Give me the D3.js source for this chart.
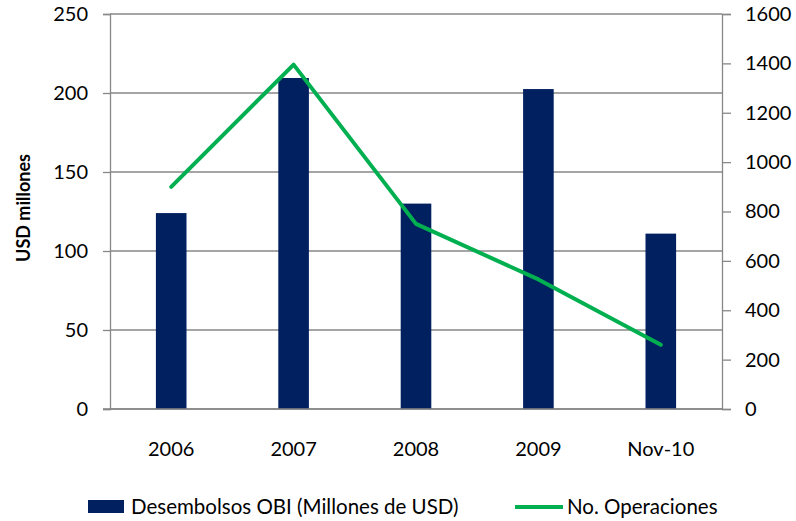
<!DOCTYPE html>
<html lang="en">
<head>
<meta charset="UTF-8">
<title>Desembolsos OBI</title>
<style>
    html, body { margin: 0; padding: 0; background: #fff; }
    svg { display: block; font-family: Lato, 'Open Sans', sans-serif; }
</style>
</head>
<body>
<div id="chart"></div>
<script src="https://d3js.org/d3.v7.min.js"></script>
<script>
    const categories = ["2006", "2007", "2008", "2009", "Nov-10"];
    const desembolsos = [124, 209.5, 130, 202.5, 111];
    const operaciones = [900, 1395, 750, 525, 260];
    const leftTicks = [0, 50, 100, 150, 200, 250];
    const rightTicks = [0, 200, 400, 600, 800, 1000, 1200, 1400, 1600];

    const W = 796, H = 521;
    const margin = {top: 14, left: 110, right: 74, bottom: 112};
    const width = W - margin.left - margin.right;
    const height = H - margin.top - margin.bottom;

    const svg = d3.select("#chart").append("svg")
        .attr("width", W).attr("height", H);
    const g = svg.append("g").attr("transform", `translate(${margin.left},${margin.top})`);

    const x = d3.scaleBand().domain(categories).range([0, width])
        .paddingInner(0.75).paddingOuter(0.375);
    const yL = d3.scaleLinear().domain([0, 250]).range([height, 0]);
    const yR = d3.scaleLinear().domain([0, 1600]).range([height, 0]);

    // gridlines
    g.selectAll(".grid").data(leftTicks).enter().append("line")
        .attr("x1", 0).attr("x2", width)
        .attr("y1", d => yL(d)).attr("y2", d => yL(d))
        .attr("stroke", "#878787").attr("stroke-width", 1.3);

    // bars
    g.selectAll(".bar").data(desembolsos).enter().append("rect")
        .attr("x", (d, i) => x(categories[i]))
        .attr("y", d => yL(d))
        .attr("width", x.bandwidth())
        .attr("height", d => height - yL(d))
        .attr("fill", "#002060");

    // left axis
    const axL = g.append("g").call(d3.axisLeft(yL).tickValues(leftTicks).tickSize(7).tickPadding(15));
    // right axis
    const axR = g.append("g").attr("transform", `translate(${width},0)`)
        .call(d3.axisRight(yR).tickValues(rightTicks).tickFormat(d3.format("d")).tickSize(9).tickPadding(14));
    // bottom axis
    const axB = g.append("g").attr("transform", `translate(0,${height})`)
        .call(d3.axisBottom(x).tickSize(0).tickPadding(33));

    [axL, axR, axB].forEach(a => {
        a.selectAll("path, line").attr("stroke", "#878787").attr("stroke-width", 1.3);
        a.selectAll("text").attr("font-size", 20).attr("fill", "#000")
            .style("font-family", "Lato, 'Open Sans', sans-serif");
    });
    axB.select(".domain").attr("d", `M-7,0H${width}`);

    // line
    const line = d3.line()
        .x((d, i) => x(categories[i]) + x.bandwidth() / 2)
        .y(d => yR(d));
    g.append("path").datum(operaciones)
        .attr("d", line)
        .attr("fill", "none")
        .attr("stroke", "#00B050")
        .attr("stroke-width", 4)
        .attr("stroke-linecap", "round")
        .attr("stroke-linejoin", "round");

    // y title
    svg.append("text")
        .attr("transform", `translate(30,208) rotate(-90)`)
        .attr("text-anchor", "middle")
        .attr("font-size", 18).attr("font-weight", "bold")
        .text("USD millones");

    // legend
    const lg = svg.append("g");
    lg.append("rect").attr("x", 88).attr("y", 500).attr("width", 36).attr("height", 13).attr("fill", "#002060");
    lg.append("text").attr("x", 131).attr("y", 514).attr("font-size", 20.5).text("Desembolsos OBI (Millones de USD)");
    lg.append("line").attr("x1", 515).attr("x2", 563).attr("y1", 507).attr("y2", 507)
        .attr("stroke", "#00B050").attr("stroke-width", 4);
    lg.append("text").attr("x", 567).attr("y", 514).attr("font-size", 20.5).text("No. Operaciones");
</script>
</body>
</html>
